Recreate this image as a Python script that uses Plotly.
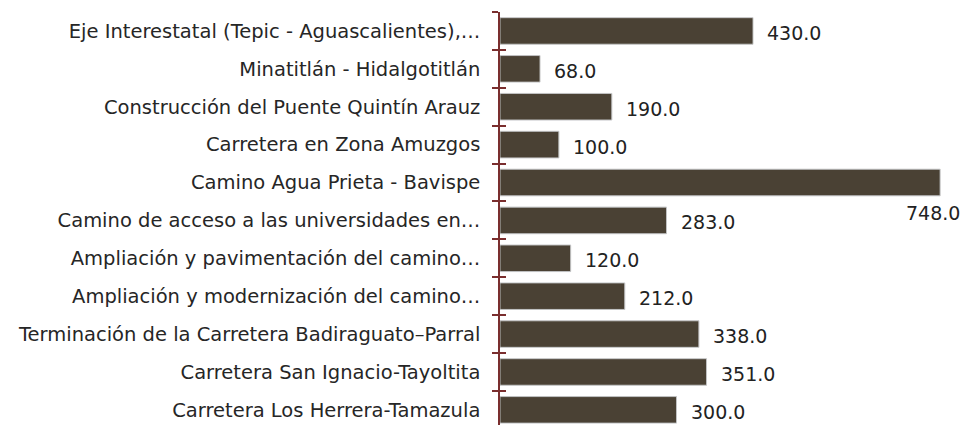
import plotly.graph_objects as go

categories = [
    "Eje Interestatal (Tepic - Aguascalientes),…",
    "Minatitlán - Hidalgotitlán",
    "Construcción del Puente Quintín Arauz",
    "Carretera en Zona Amuzgos",
    "Camino Agua Prieta - Bavispe",
    "Camino de acceso a las universidades en…",
    "Ampliación y pavimentación del camino…",
    "Ampliación y modernización del camino…",
    "Terminación de la Carretera Badiraguato–Parral",
    "Carretera San Ignacio-Tayoltita",
    "Carretera Los Herrera-Tamazula",
]
values = [430.0, 68.0, 190.0, 100.0, 748.0, 283.0, 120.0, 212.0, 338.0, 351.0, 300.0]

FONT = "DejaVu Sans"
BAR = "#4a4134"
AXIS = "#7a2e2e"

fig = go.Figure()
fig.add_trace(go.Bar(
    x=values, y=categories, orientation="h",
    marker=dict(color=BAR, line=dict(color="#9a948c", width=0.6)),
    width=0.7, hoverinfo="x+y", showlegend=False,
))
fig.add_trace(go.Bar(
    x=values, y=categories, orientation="h", yaxis="y2",
    marker=dict(color="rgba(0,0,0,0)"), width=0.7,
    hoverinfo="skip", showlegend=False,
))

vmax = max(values)
for c, v in zip(categories, values):
    if v == vmax:
        fig.add_annotation(x=v, y=c, text=f"{v:.1f}", showarrow=False,
                           xanchor="right", yanchor="middle", xshift=22, yshift=-30,
                           font=dict(family=FONT, size=19, color="#222222"))
    else:
        fig.add_annotation(x=v, y=c, text=f"{v:.1f}", showarrow=False,
                           xanchor="left", yanchor="middle", xshift=12, yshift=-2,
                           font=dict(family=FONT, size=19, color="#222222"))

yrange = [10.4, -0.5]
fig.update_layout(
    width=960, height=417,
    margin=dict(l=492, r=0, t=4, b=0),
    paper_bgcolor="white", plot_bgcolor="white",
    bargap=0.3,
    xaxis=dict(range=[0, 795.4], visible=False, fixedrange=True),
    yaxis=dict(
        type="category", categoryorder="array", categoryarray=categories,
        range=yrange, showline=True, linecolor=AXIS, linewidth=1.5,
        ticks="outside", ticklen=6, tickcolor=AXIS, tickwidth=1.5,
        tickson="boundaries", showgrid=False, zeroline=False,
        tickfont=dict(family=FONT, size=19.5, color="#262626"),
        ticklabelstandoff=14,
    ),
    yaxis2=dict(
        type="category", categoryorder="array", categoryarray=categories,
        range=yrange, overlaying="y", side="left", anchor="x",
        showline=False, ticks="inside", ticklen=6, tickcolor=AXIS, tickwidth=1.5,
        tickson="boundaries", showgrid=False, zeroline=False, showticklabels=False,
    ),
)

fig.write_html("out.html")
